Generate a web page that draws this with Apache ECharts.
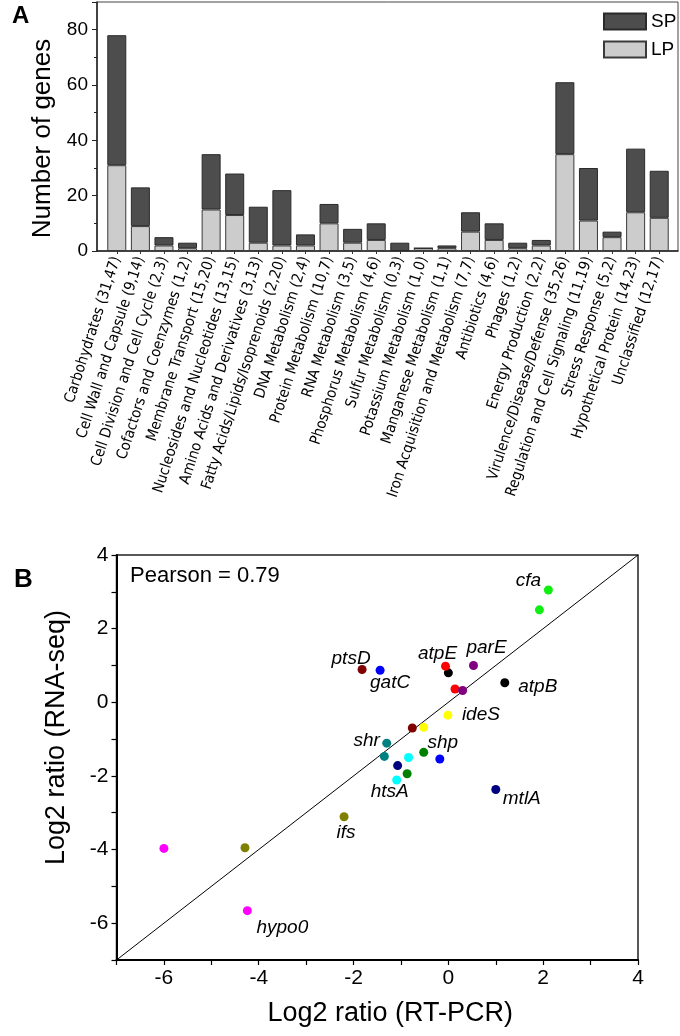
<!DOCTYPE html>
<html><head><meta charset="utf-8">
<script src="https://cdn.jsdelivr.net/npm/echarts@6/dist/echarts.min.js"></script>
<style>html,body{margin:0;padding:0;background:#fff}#c{width:680px;height:1036px}</style>
</head><body><div id="c"></div>
<script>
// ---------- Panel A data ----------
const categories = [
  'Carbohydrates (31,47)', 'Cell Wall and Capsule (9,14)', 'Cell Division and Cell Cycle (2,3)',
  'Cofactors and Coenzymes (1,2)', 'Membrane Transport (15,20)', 'Nucleosides and Nucleotides (13,15)',
  'Amino Acids and Derivatives (3,13)', 'Fatty Acids/Lipids/Isoprenoids (2,20)', 'DNA Metabolism (2,4)',
  'Protein Metabolism (10,7)', 'RNA Metabolism (3,5)', 'Phosphorus Metabolism (4,6)',
  'Sulfur Metabolism (0,3)', 'Potassium Metabolism (1,0)', 'Manganese Metabolism (1,1)',
  'Iron Acquisition and Metabolism (7,7)', 'Antibiotics (4,6)', 'Phages (1,2)',
  'Energy Production (2,2)', 'Virulence/Disease/Defense (35,26)', 'Regulation and Cell Signaling (11,19)',
  'Stress Response (5,2)', 'Hypothetical Protein (14,23)', 'Unclassified (12,17)'
];
const lpCounts = [31, 9, 2, 1, 15, 13, 3, 2, 2, 10, 3, 4, 0, 1, 1, 7, 4, 1, 2, 35, 11, 5, 14, 12];
const spCounts = [47, 14, 3, 2, 20, 15, 13, 20, 4, 7, 5, 6, 3, 0, 1, 7, 6, 2, 2, 26, 19, 2, 23, 17];
const yTicksA = [0, 20, 40, 60, 80];

// ---------- Panel B data ----------
const genes = ['cfa', 'ptsD', 'gatC', 'atpE', 'atpB', 'parE', 'ideS', 'shr', 'shp', 'htsA', 'mtlA', 'ifs', 'hypo0'];
// point carrying the gene name
const rtpcrLabeled  = [2.11, -1.82, -1.44, -0.06, 1.19, 0.53, -0.01, -1.30, -0.52, -1.09, 1.00, -2.20, -4.24];
const rnaseqLabeled = [3.05, 0.89, 0.87, 0.98, 0.53, 1.00, -0.35, -1.11, -1.36, -2.11, -2.37, -3.11, -5.66];
// second point of the same gene
const rtpcrOther  = [1.92, -0.76, -0.18, 0.14, 0.00, 0.30, -0.52, -1.35, -0.87, -0.84, -1.07, -4.29, -6.00];
const rnaseqOther = [2.51, -0.70, -1.54, 0.36, 0.80, 0.32, -0.68, -1.47, -1.94, -1.50, -1.72, -3.95, -3.97];
const diagonal = [[-7, -7], [4, 4]];
const pearsonText = 'Pearson = 0.79';

// ---------- styles (kept apart from the data) ----------
const geneColors = ['#11ee11', '#800000', '#0000ff', '#ff0000', '#000000', '#800080', '#ffff00',
                    '#008080', '#008000', '#00ffff', '#000080', '#808000', '#ff00ff'];
const labelOffsets = [[-20, -9], [-11, -11], [10, 12], [-8, -12], [33, 4], [13, -18], [33, 0],
                      [-20, -2], [19, -10], [-7, 12], [26, 9], [2, 16], [35, 17]];

const FONT = "'Liberation Sans', Arial, sans-serif";
const NARROW = "'Liberation Sans Narrow', 'Arial Narrow', 'DejaVu Sans Condensed', sans-serif";

const labeledData = genes.map((g, i) => ({
  name: g,
  value: [rtpcrLabeled[i], rnaseqLabeled[i]],
  itemStyle: { color: geneColors[i], opacity: 1 },
  label: {
    show: true, formatter: g, position: 'inside', offset: labelOffsets[i],
    align: 'center', verticalAlign: 'middle', opacity: 1,
    fontFamily: FONT, fontStyle: 'italic', fontSize: 19, color: '#000',
    textBorderWidth: 0
  }
}));
const otherData = genes.map((g, i) => ({
  name: g,
  value: [rtpcrOther[i], rnaseqOther[i]],
  itemStyle: { color: geneColors[i], opacity: 1 }
}));

const chart = echarts.init(document.getElementById('c'), null, { renderer: 'canvas' });
chart.setOption({
  animation: false,
  backgroundColor: '#fff',
  textStyle: { fontFamily: FONT, color: '#000' },
  grid: [
    { left: 105, top: 2, width: 566, height: 249, containLabel: false, outerBoundsMode: 'none' },
    { left: 97, top: 2, width: 581, height: 249, show: true, borderColor: '#444', borderWidth: 1,
      containLabel: false, outerBoundsMode: 'none' },
    { left: 116.5, top: 555, width: 521.5, height: 405, show: true, borderColor: '#222', borderWidth: 1.5,
      containLabel: false, outerBoundsMode: 'none' }
  ],
  legend: {
    orient: 'vertical', left: 603, top: 12, itemWidth: 42, itemHeight: 16, itemGap: 9, padding: 0,
    icon: 'rect', data: ['SP', 'LP'],
    textStyle: { fontFamily: FONT, fontSize: 19, color: '#000' }
  },
  xAxis: [
    { gridIndex: 0, type: 'category', data: categories, boundaryGap: true,
      axisLine: { show: false },
      axisTick: { show: true, alignWithLabel: true, length: 3, lineStyle: { color: '#333' } },
      axisLabel: { rotate: 72, margin: 6, interval: 0, fontFamily: NARROW, fontSize: 15, color: '#000' },
      splitLine: { show: false } },
    { gridIndex: 1, type: 'value', min: 0, max: 1,
      axisLine: { show: true, lineStyle: { color: '#222', width: 1.5 } },
      axisTick: { show: false }, axisLabel: { show: false }, splitLine: { show: false } },
    { gridIndex: 2, type: 'value', min: -7, max: 4, interval: 1,
      axisLine: { show: true, onZero: false, lineStyle: { color: '#000', width: 2 } },
      axisTick: { show: true, inside: false, length: 5, lineStyle: { color: '#000', width: 1.2 } },
      axisLabel: { margin: 8, fontFamily: FONT, fontSize: 21, color: '#000',
        formatter: v => (Math.round(v) % 2 === 0 ? String(Math.round(v)) : '') },
      splitLine: { show: false },
      name: 'Log2 ratio (RT-PCR)', nameLocation: 'middle', nameGap: 40,
      nameTextStyle: { fontFamily: FONT, fontSize: 27, color: '#000', padding: [0, 0, 0, 26] } }
  ],
  yAxis: [
    { gridIndex: 0, type: 'value', min: 0, max: 90, show: false, splitLine: { show: false } },
    { gridIndex: 1, type: 'value', min: 0, max: 90, interval: 20,
      axisLine: { show: true, lineStyle: { color: '#222', width: 1.5 } },
      axisTick: { show: true, inside: false, length: 5, lineStyle: { color: '#222' } },
      minorTick: { show: true, splitNumber: 2, length: 3, lineStyle: { color: '#222' } },
      axisLabel: { margin: 9, fontFamily: FONT, fontSize: 19, color: '#000',
        formatter: v => (yTicksA.indexOf(v) >= 0 ? String(v) : '') },
      splitLine: { show: false },
      name: 'Number of genes', nameLocation: 'middle', nameRotate: 90, nameGap: 40,
      nameTextStyle: { fontFamily: FONT, fontSize: 26, color: '#000', padding: [0, 24, 0, 0] } },
    { gridIndex: 2, type: 'value', min: -7, max: 4, interval: 1,
      axisLine: { show: true, onZero: false, lineStyle: { color: '#000', width: 2 } },
      axisTick: { show: true, inside: false, length: 5, lineStyle: { color: '#000', width: 1.2 } },
      axisLabel: { margin: 8, fontFamily: FONT, fontSize: 21, color: '#000',
        formatter: v => (Math.round(v) % 2 === 0 ? String(Math.round(v)) : '') },
      splitLine: { show: false },
      name: 'Log2 ratio (RNA-seq)', nameLocation: 'middle', nameRotate: 90, nameGap: 46,
      nameTextStyle: { fontFamily: FONT, fontSize: 27, color: '#000', padding: [0, 0, 0, 40] } }
  ],
  series: [
    { name: 'LP', type: 'bar', stack: 'genes', xAxisIndex: 0, yAxisIndex: 0, data: lpCounts,
      barWidth: 19, itemStyle: { color: '#cccccc', borderColor: '#3a3a3a', borderWidth: 1 } },
    { name: 'SP', type: 'bar', stack: 'genes', xAxisIndex: 0, yAxisIndex: 0, data: spCounts,
      barWidth: 19, itemStyle: { color: '#4d4d4d', borderColor: '#2a2a2a', borderWidth: 1 } },
    { name: 'diag', type: 'line', xAxisIndex: 2, yAxisIndex: 2, data: diagonal, symbol: 'none',
      silent: true, z: 1, lineStyle: { color: '#000', width: 1 } },
    { name: 'genesOther', type: 'scatter', xAxisIndex: 2, yAxisIndex: 2, data: otherData,
      symbolSize: 9, z: 3, itemStyle: { opacity: 1 } },
    { name: 'genesLabeled', type: 'scatter', xAxisIndex: 2, yAxisIndex: 2, data: labeledData,
      symbolSize: 9, z: 3, itemStyle: { opacity: 1 } }
  ],
  graphic: [
    { type: 'text', left: 12, top: 4, style: { text: 'A', font: "bold 24px " + FONT, fill: '#000' } },
    { type: 'text', left: 14, top: 567, style: { text: 'B', font: "bold 26px " + FONT, fill: '#000' } },
    { type: 'text', left: 130, top: 565, style: { text: pearsonText, font: "22px " + FONT, fill: '#000' } }
  ]
});
</script></body></html>
